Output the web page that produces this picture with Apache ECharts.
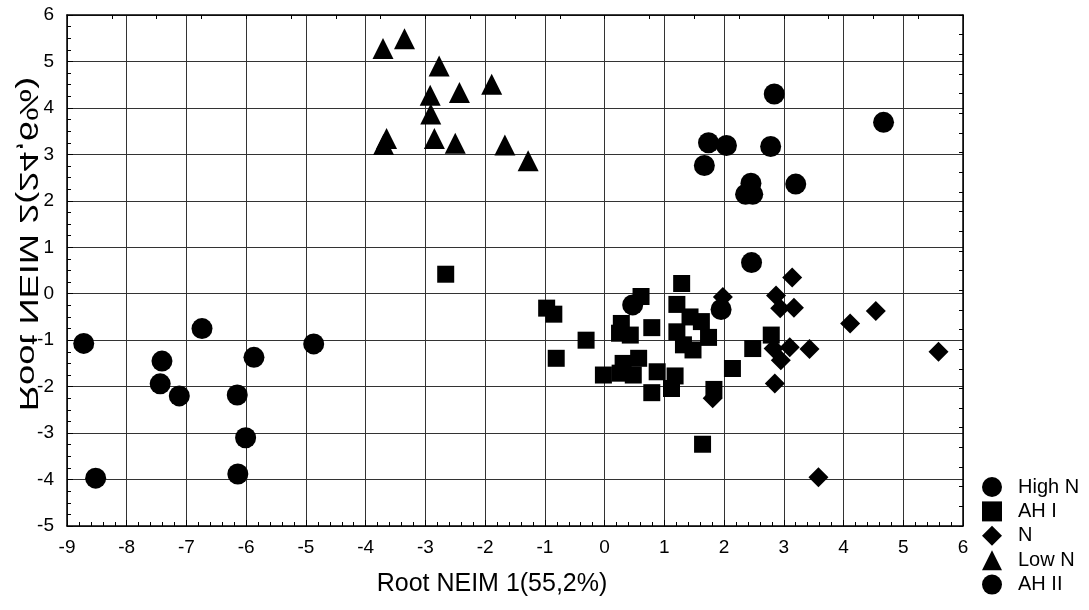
<!DOCTYPE html>
<html>
<head>
<meta charset="utf-8">
<script src="https://cdn.jsdelivr.net/npm/echarts@6/dist/echarts.min.js"></script>
<style>
  html, body { margin: 0; padding: 0; background: #fff; }
  #chart { width: 1089px; height: 610px; }
</style>
</head>
<body>
<div id="chart"></div>
<script>
// Discriminant scores: [Root 1, Root 2] per observation
var highN = [
  [-8.72, -1.07], [-8.52, -3.97], [-7.41, -1.45], [-7.44, -1.94], [-7.12, -2.20],
  [-6.74, -0.75], [-6.15, -2.18], [-5.87, -1.37], [-6.01, -3.10], [-6.14, -3.88],
  [-4.87, -1.08]
];
var ahI = [
  [-2.66, 0.42], [1.29, 0.22], [-0.97, -0.31], [-0.85, -0.44], [0.61, -0.06],
  [0.28, -0.64], [0.25, -0.85], [0.43, -0.89], [0.79, -0.73], [-0.31, -1.00],
  [-0.81, -1.39], [1.21, -0.23], [1.21, -0.82], [1.43, -0.50], [1.62, -0.60],
  [1.74, -0.94], [1.32, -1.10], [1.48, -1.21], [2.48, -1.18], [2.14, -1.61],
  [-0.02, -1.75], [0.31, -1.50], [0.57, -1.39], [0.26, -1.71], [0.48, -1.75],
  [0.88, -1.68], [1.18, -1.77], [1.12, -2.04], [0.79, -2.13], [1.83, -2.06],
  [1.64, -3.24], [2.79, -0.89]
];
var nGroup = [
  [3.14, 0.35], [2.87, -0.04], [2.94, -0.31], [3.17, -0.30], [4.11, -0.64],
  [4.54, -0.37], [2.83, -1.18], [3.10, -1.15], [3.43, -1.19], [2.95, -1.43],
  [2.85, -1.93], [5.59, -1.25], [3.58, -3.95], [1.98, -0.07], [1.81, -2.25]
];
var lowN = [
  [-3.71, 5.28], [-3.35, 5.49], [-2.77, 4.90], [-2.92, 4.27], [-2.43, 4.33],
  [-1.89, 4.51], [-2.91, 3.87], [-3.65, 3.34], [-3.70, 3.21], [-2.85, 3.34],
  [-2.50, 3.24], [-1.67, 3.20], [-1.28, 2.86]
];
var ahII = [
  [2.84, 4.30], [4.67, 3.69], [1.74, 3.25], [2.04, 3.19], [2.78, 3.17],
  [1.67, 2.76], [2.45, 2.38], [2.36, 2.14], [2.48, 2.14], [3.20, 2.36],
  [2.46, 0.67], [0.47, -0.24], [1.95, -0.34]
];

var groupNames = ['High N', 'AH I', 'N', 'Low N', 'AH II'];
var groupData = [highN, ahI, nGroup, lowN, ahII];
var groupSymbols = ['circle', 'rect', 'diamond', 'triangle', 'circle'];
var groupSizes = [21, 17, 20, 21, 21];

var xTitle = 'Root NEIM 1(55,2%)';
var yTitle = 'Root NEIM 2(24,6%)';

var FONT = '"Liberation Sans", Arial, sans-serif';
var INK = '#000';

var chart = echarts.init(document.getElementById('chart'), null, { renderer: 'canvas' });

var series = groupNames.map(function (name, i) {
  return {
    name: name,
    type: 'scatter',
    xAxisIndex: 0,
    yAxisIndex: 0,
    symbol: groupSymbols[i],
    symbolSize: groupSizes[i],
    itemStyle: { color: INK, opacity: 1 },
    emphasis: { disabled: true },
    data: groupData[i]
  };
});

var option = {
  animation: false,
  backgroundColor: '#fff',
  grid: { left: 67, right: 126, top: 15, bottom: 84, containLabel: false },
  legend: {
    orient: 'vertical',
    left: 982,
    top: 477,
    itemWidth: 20,
    itemHeight: 20,
    itemGap: 4.4,
    padding: 0,
    selectedMode: false,
    textStyle: { fontFamily: FONT, fontSize: 20, color: INK, padding: [0, 0, 0, 11] },
    data: groupNames
  },
  xAxis: [
    {
      type: 'value', position: 'bottom', min: -9, max: 6, interval: 1,
      axisLine: { show: true, onZero: false, lineStyle: { color: INK, width: 1.5 } },
      axisTick: { show: true, inside: true, length: 6, lineStyle: { color: INK, width: 1 } },
      minorTick: { show: true, splitNumber: 5, length: 4, lineStyle: { color: INK, width: 1 } },
      axisLabel: { fontFamily: FONT, fontSize: 19, color: INK, margin: 12 },
      splitLine: { show: true, lineStyle: { color: '#333', width: 1 } }
    },
    {
      type: 'value', position: 'top', min: 0, max: 20, interval: 1,
      axisLine: { show: true, onZero: false, lineStyle: { color: INK, width: 1.5 } },
      axisTick: { show: true, inside: true, length: 4, lineStyle: { color: INK, width: 1 } },
      axisLabel: { show: false },
      splitLine: { show: false }
    }
  ],
  yAxis: [
    {
      type: 'value', position: 'left', min: -5, max: 6, interval: 1,
      axisLine: { show: true, onZero: false, lineStyle: { color: INK, width: 1.5 } },
      axisTick: { show: true, inside: true, length: 6, lineStyle: { color: INK, width: 1 } },
      minorTick: { show: true, splitNumber: 4, length: 4, lineStyle: { color: INK, width: 1 } },
      axisLabel: { fontFamily: FONT, fontSize: 19, color: INK, margin: 13 },
      splitLine: { show: true, lineStyle: { color: '#333', width: 1 } }
    },
    {
      type: 'value', position: 'right', min: 0, max: 26, interval: 1,
      axisLine: { show: true, onZero: false, lineStyle: { color: INK, width: 1.5 } },
      axisTick: { show: true, inside: true, length: 4, lineStyle: { color: INK, width: 1 } },
      axisLabel: { show: false },
      splitLine: { show: false }
    }
  ],
  graphic: [
    {
      type: 'text',
      x: 492, y: 584,
      style: { text: xTitle, fontFamily: FONT, fontSize: 25, fill: INK, align: 'center', verticalAlign: 'middle' }
    },
    {
      type: 'text',
      x: 27, y: 244,
      rotation: Math.PI / 2,
      scaleX: 1.45,
      scaleY: -1,
      style: { text: yTitle, fontFamily: FONT, fontSize: 25, fill: INK, align: 'center', verticalAlign: 'middle' }
    }
  ],
  series: series
};

chart.setOption(option);
</script>
</body>
</html>
